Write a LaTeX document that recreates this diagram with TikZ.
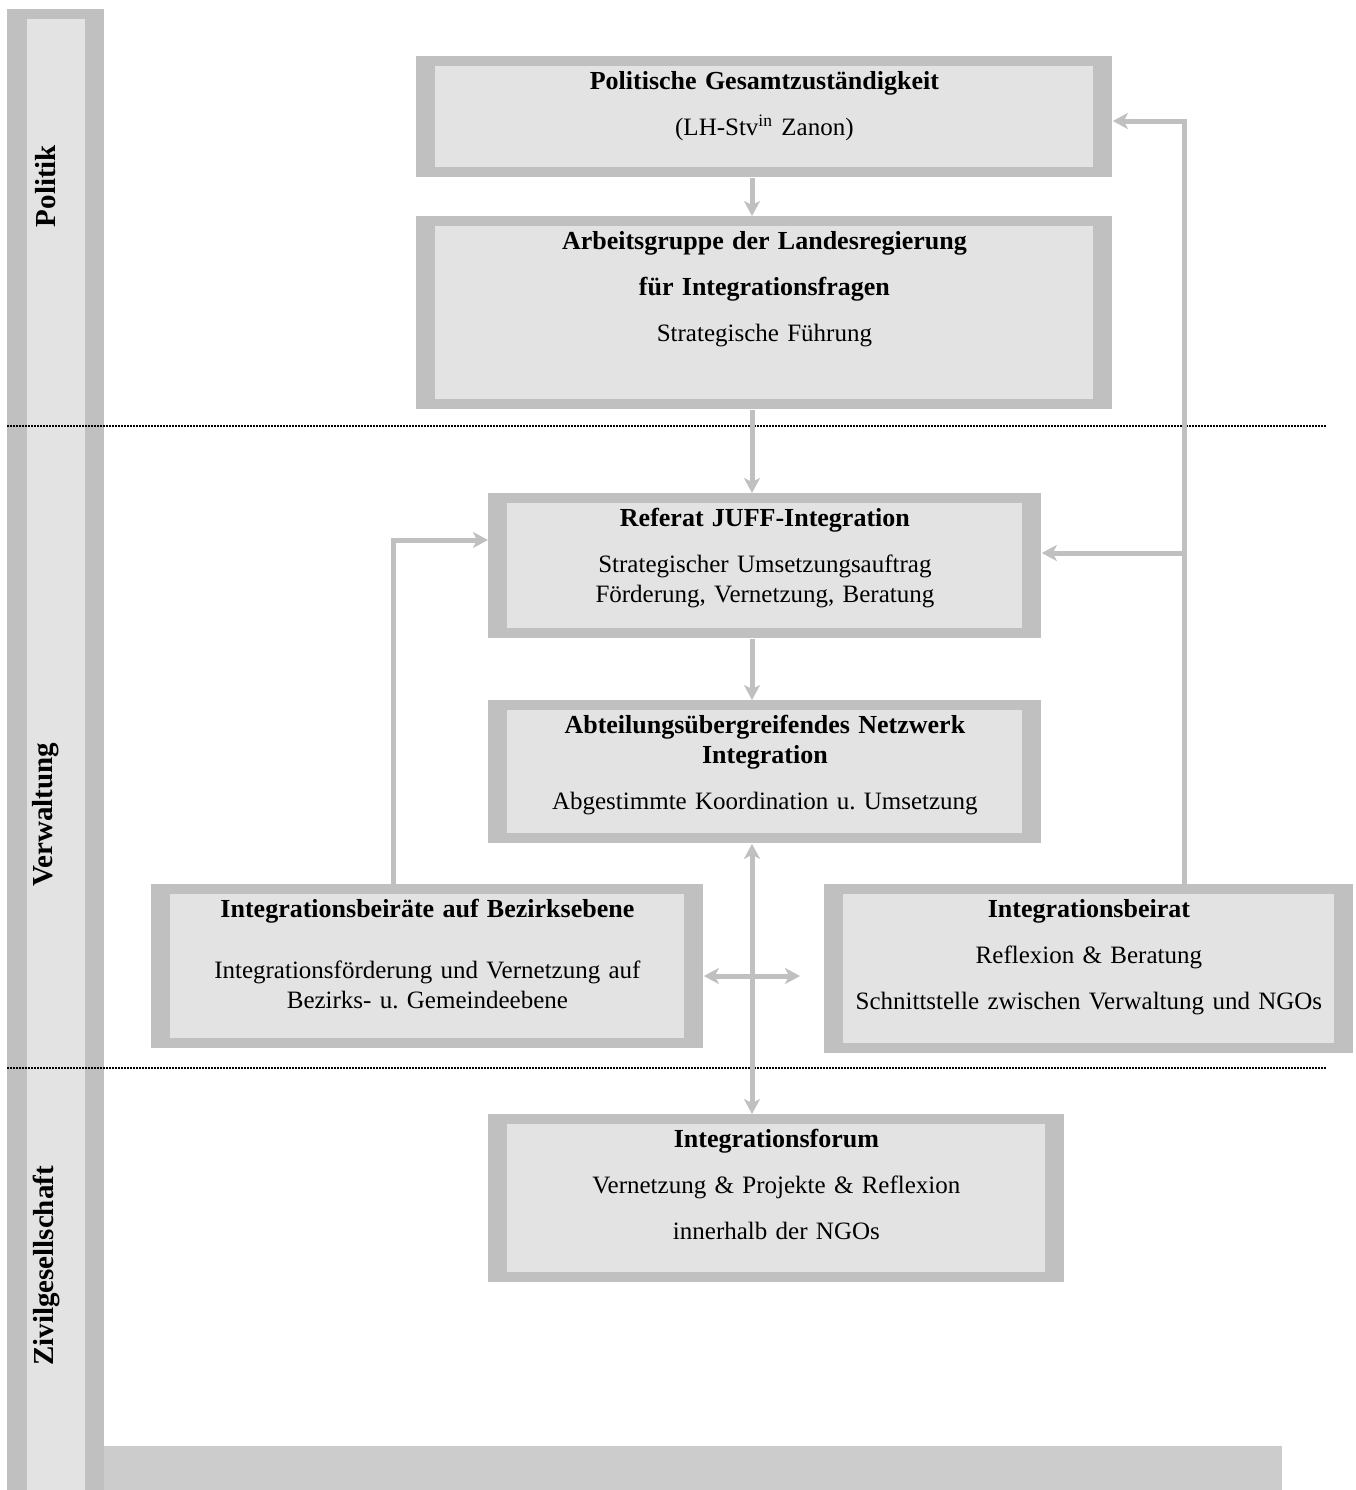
\documentclass[tikz,border=0pt]{standalone}
\usepackage{fontspec}
\setmainfont{Liberation Serif}
\usetikzlibrary{positioning,arrows.meta,calc}
\definecolor{framegray}{RGB}{192,192,192}
\definecolor{boxgray}{RGB}{227,227,227}
\definecolor{bargray}{RGB}{204,204,204}
\newcommand{\bodyfont}{\fontsize{12.5pt}{15.25pt}\selectfont\frenchspacing}
\newcommand{\headfont}{\fontsize{13pt}{15.25pt}\selectfont\bfseries}

\begin{document}
\begin{tikzpicture}[
x=0.5pt, y=-0.5pt,
orgbox/.style={
  anchor=north west,
  fill=framegray,
  inner sep=0pt,
  path picture={\fill[boxgray]
    ([xshift=9.5pt,yshift=5pt]path picture bounding box.south west) rectangle
    ([xshift=-9.5pt,yshift=-5pt]path picture bounding box.north east);}},
boxtext/.style={
  anchor=north,
  inner sep=0pt,
  align=center,
  text width=#1,
  font=\bodyfont},
lane/.style={
  rotate=90,
  font=\fontsize{14.5pt}{17pt}\selectfont\bfseries},
link/.style={
  draw=framegray,
  line width=2.5pt,
  line join=miter,
  -{Stealth[length=7.5pt,width=8pt,inset=2pt]}},
twoway/.style={
  link,
  {Stealth[length=7.5pt,width=8pt,inset=2pt]}-{Stealth[length=7.5pt,width=8pt,inset=2pt]}}
]
\useasboundingbox (0,0) rectangle (1356,1490);
\fill[framegray] (7,9) rectangle (104,1490);
\fill[boxgray] (27,19) rectangle (85,1490);
\fill[bargray] (104,1446) rectangle (1282,1490);
\foreach \Level in {426,1068}
  \draw[line width=0.75pt, dash pattern=on 0.75pt off 0.75pt] (7,\Level) -- (1326,\Level);
\node[lane] (politik) at (46,186) {Politik};
\node[lane] (verwaltung) at (46,815) {Verwaltung};
\node[lane] (zivil) at (46,1266) {Zivilgesellschaft};

\node[orgbox, minimum width=348pt, minimum height=60.5pt] (polit) at (416,56) {};
\node[orgbox, minimum width=348pt, minimum height=96.5pt] (arbeit) at (416,216) {};
\node[orgbox, minimum width=276.5pt, minimum height=72.5pt] (referat) at (488,493) {};
\node[orgbox, minimum width=276.5pt, minimum height=71.5pt] (netz) at (488,700) {};
\node[orgbox, minimum width=276pt, minimum height=82pt] (bezirk) at (151,884) {};
\node[orgbox, minimum width=264.5pt, minimum height=84.5pt] (beirat) at (824,884) {};
\node[orgbox, minimum width=288pt, minimum height=84pt] (forum) at (488,1114) {};

\node[boxtext=330pt] (polittext) at ([yshift=-5.8pt]polit.north)
  {\strut{\headfont Politische Gesamtzuständigkeit}\\[7.75pt]
   (LH-Stv\textsuperscript{in} Zanon)};
\node[boxtext=330pt] (arbeittext) at ([yshift=-5.8pt]arbeit.north)
  {\strut{\headfont Arbeitsgruppe der Landesregierung}\\[7.75pt]
   {\headfont für Integrationsfragen}\\[7.75pt]
   Strategische Führung};
\node[boxtext=257pt] (referattext) at ([yshift=-5.8pt]referat.north)
  {\strut{\headfont Referat JUFF-Integration}\\[7.75pt]
   Strategischer Umsetzungsauftrag\\
   Förderung, Vernetzung, Beratung};
\node[boxtext=257pt] (netztext) at ([yshift=-5.8pt]netz.north)
  {\strut{\headfont Abteilungsübergreifendes Netzwerk\\ Integration}\\[7.75pt]
   Abgestimmte Koordination u. Umsetzung};
\node[boxtext=257pt] (bezirktext) at ([yshift=-5.8pt]bezirk.north)
  {\strut{\headfont Integrationsbeiräte auf Bezirksebene}\\[15.25pt]
   Integrationsförderung und Vernetzung auf\\
   Bezirks- u. Gemeindeebene};
\node[boxtext=246pt] (beirattext) at ([yshift=-5.8pt]beirat.north)
  {\strut{\headfont Integrationsbeirat}\\[7.75pt]
   Reflexion \& Beratung\\[7.75pt]
   Schnittstelle zwischen Verwaltung und NGOs};
\node[boxtext=269pt] (forumtext) at ([yshift=-5.8pt]forum.north)
  {\strut{\headfont Integrationsforum}\\[7.75pt]
   Vernetzung \& Projekte \& Reflexion\\[7.75pt]
   innerhalb der NGOs};

\coordinate (axis) at (752,0);
\coordinate (cross) at (800,976);
\coordinate (leftup) at (393,540);
\coordinate (rightup) at (1184,121);
\coordinate (branch) at (1184,553);
\draw[link] (polit.south -| axis) -- (arbeit.north -| axis);
\draw[link] (arbeit.south -| axis) -- (referat.north -| axis);
\draw[link] (referat.south -| axis) -- (netz.north -| axis);
\draw[twoway] (netz.south -| axis) -- (forum.north -| axis);
\draw[twoway] (bezirk.east |- cross) -- (cross);
\draw[link] (bezirk.north -| leftup) |- (referat.west |- leftup);
\draw[link] (beirat.north -| rightup) |- (polit.east |- rightup);
\draw[link] (branch) -- (referat.east |- branch);
\end{tikzpicture}
\end{document}
